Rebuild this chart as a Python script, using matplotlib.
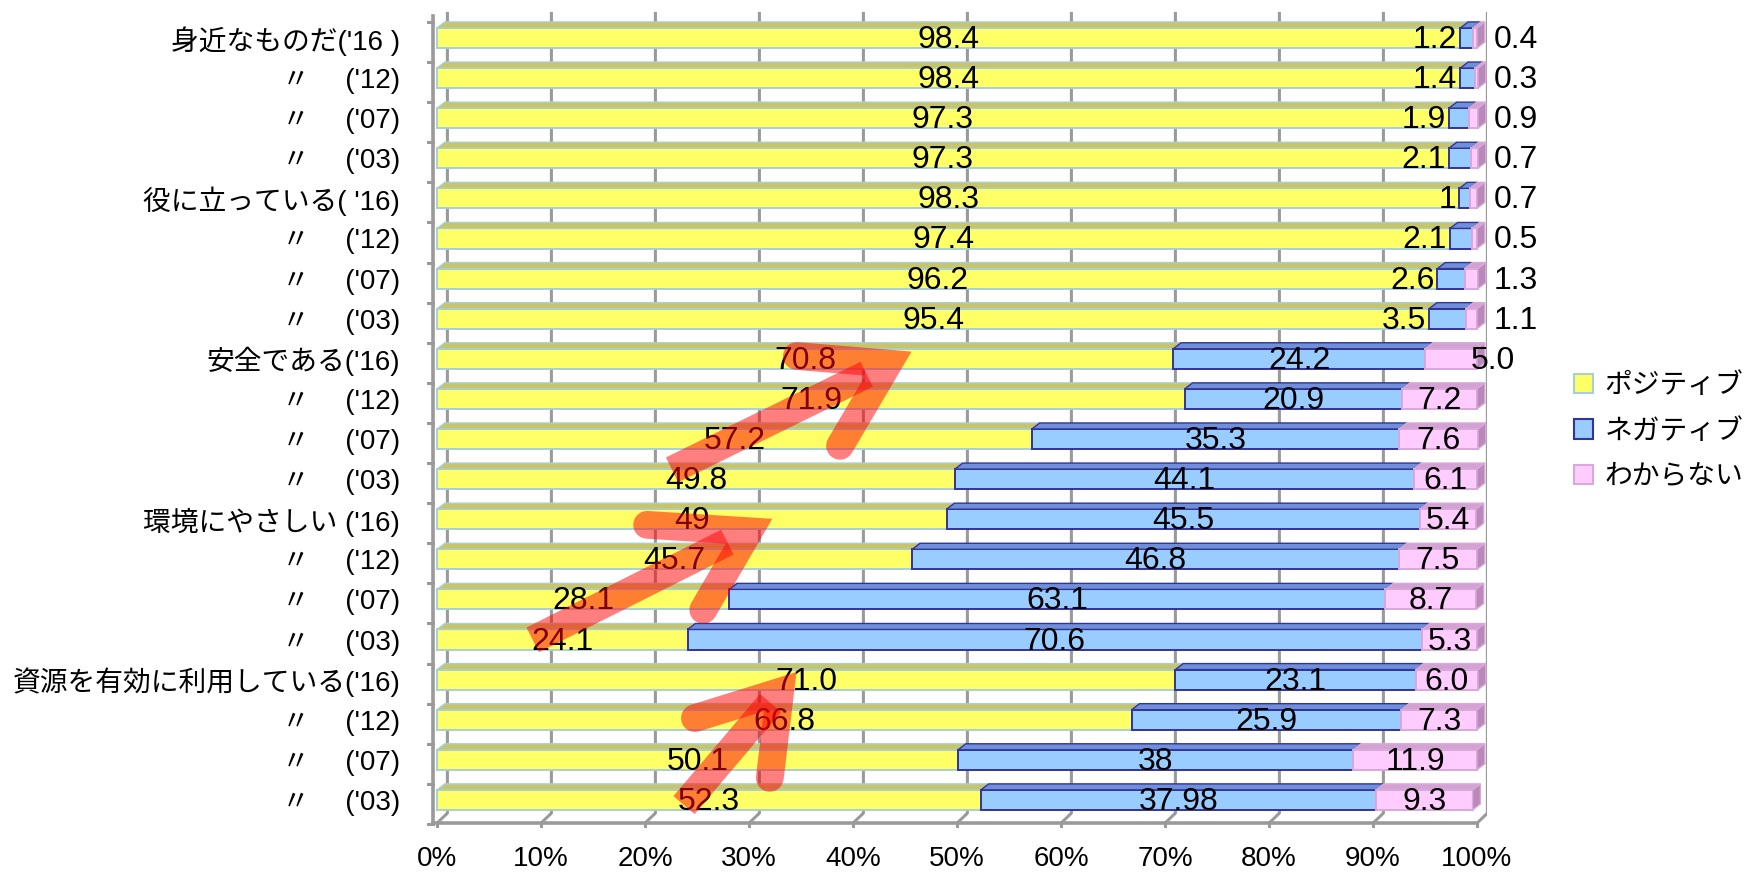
import numpy as np
import matplotlib
matplotlib.use("Agg")
import matplotlib.pyplot as plt
from matplotlib.patches import Polygon, Patch

plt.rcParams['font.family'] = ['Liberation Sans', 'Noto Sans CJK JP']

# ---------------- DATA ---------------- #

row_labels = [
    "身近なものだ('16 )", "〃　 ('12)", "〃　 ('07)", "〃　 ('03)",
    "役に立っている( '16)", "〃　 ('12)", "〃　 ('07)", "〃　 ('03)",
    "安全である('16)", "〃　 ('12)", "〃　 ('07)", "〃　 ('03)",
    "環境にやさしい ('16)", "〃　 ('12)", "〃　 ('07)", "〃　 ('03)",
    "資源を有効に利用している('16)", "〃　 ('12)", "〃　 ('07)", "〃　 ('03)",
]
positive = [98.4, 98.4, 97.3, 97.3, 98.3, 97.4, 96.2, 95.4, 70.8, 71.9,
            57.2, 49.8, 49, 45.7, 28.1, 24.1, 71.0, 66.8, 50.1, 52.3]
negative = [1.2, 1.4, 1.9, 2.1, 1, 2.1, 2.6, 3.5, 24.2, 20.9,
            35.3, 44.1, 45.5, 46.8, 63.1, 70.6, 23.1, 25.9, 38, 37.98]
unknown = [0.4, 0.3, 0.9, 0.7, 0.7, 0.5, 1.3, 1.1, 5.0, 7.2,
           7.6, 6.1, 5.4, 7.5, 8.7, 5.3, 6.0, 7.3, 11.9, 9.3]
positive_text = ["98.4", "98.4", "97.3", "97.3", "98.3", "97.4", "96.2", "95.4", "70.8", "71.9",
                 "57.2", "49.8", "49", "45.7", "28.1", "24.1", "71.0", "66.8", "50.1", "52.3"]
negative_text = ["1.2", "1.4", "1.9", "2.1", "1", "2.1", "2.6", "3.5", "24.2", "20.9",
                 "35.3", "44.1", "45.5", "46.8", "63.1", "70.6", "23.1", "25.9", "38", "37.98"]
unknown_text = ["0.4", "0.3", "0.9", "0.7", "0.7", "0.5", "1.3", "1.1", "5.0", "7.2",
                "7.6", "6.1", "5.4", "7.5", "8.7", "5.3", "6.0", "7.3", "11.9", "9.3"]
series_names = ["ポジティブ", "ネガティブ", "わからない"]
x_ticks = [0, 10, 20, 30, 40, 50, 60, 70, 80, 90, 100]

# ---------------- STYLE ---------------- #

face = ['#FFFF66', '#99CCFF', '#FFCCFF']
edge = ['#A9CFD6', '#333399', '#D9A9D9']
top_face = ['#C8C46A', '#6F8FD8', '#D2A2D2']
side_face = ['#C8C46A', '#5A74C0', '#B98AB9']
bar_h = 0.5
dx, dy = 0.75, 0.15          # bar depth
gx, gy = 1.0, 0.25           # wall / floor offset
y_top, y_floor = -0.65, 19.58
grid_col = '#9A9A9A'

fig = plt.figure(figsize=(17.5, 8.72), dpi=100)
ax = fig.add_axes([0.24377, 0.05046, 0.60617, 0.94278])
ax.set_xlim(-1, 101)
ax.set_ylim(19.7, -0.8)
ax.set_frame_on(False)

rows = np.arange(len(row_labels))
pos = np.array(positive, dtype=float)
neg = np.array(negative, dtype=float)
unk = np.array(unknown, dtype=float)

# back wall gridlines with floor connectors
for x in x_ticks:
    ax.plot([x + gx, x + gx, x], [y_top, y_floor - gy, y_floor],
            color=grid_col, lw=2.2, zorder=1, solid_capstyle='butt')
    ax.plot([x, x], [y_floor, y_floor + 0.25], color=grid_col, lw=2.2, zorder=1)
ax.plot([-0.4, -0.4], [y_top + 0.1, y_floor], color=grid_col, lw=2.6, zorder=1)
ax.plot([-0.4, 100], [y_floor, y_floor], color=grid_col, lw=2.6, zorder=1)
for b in np.arange(-0.4, 20, 1.0):
    ax.plot([-1.0, -0.4], [b, b], color=grid_col, lw=2.2, zorder=1)

# stacked 3D-ish bars
segments = [(pos, np.zeros_like(pos)), (neg, pos), (unk, pos + neg)]
for k, (vals, lefts) in enumerate(segments):
    ax.barh(rows, vals, left=lefts, height=bar_h, color=face[k],
            edgecolor=edge[k], linewidth=1.4, zorder=3)
    for i in rows:
        l, r = lefts[i], lefts[i] + vals[i]
        t = i - bar_h / 2
        ax.add_patch(Polygon([(l, t), (l + dx, t - dy), (r + dx, t - dy), (r, t)],
                             closed=True, facecolor=top_face[k], edgecolor=edge[k],
                             lw=1.0, zorder=3))
        if k == 2:
            b = i + bar_h / 2
            ax.add_patch(Polygon([(r, t), (r + dx, t - dy), (r + dx, b - dy), (r, b)],
                                 closed=True, facecolor=side_face[k], edgecolor=edge[k],
                                 lw=1.0, zorder=3))

# data labels
lab_kw = dict(fontsize=23, va='center', zorder=5, family='Liberation Sans')
unk_nudge = {8: 4.0}
for i in rows:
    ax.text(pos[i] / 2, i + 0.05, positive_text[i], ha='center', **lab_kw)
    if neg[i] < 4:
        ax.text(pos[i] - 0.3, i + 0.05, negative_text[i], ha='right', **lab_kw)
    else:
        ax.text(pos[i] + neg[i] / 2, i + 0.05, negative_text[i], ha='center', **lab_kw)
    if unk[i] < 2:
        ax.text(101.6, i + 0.05, unknown_text[i], ha='left', clip_on=False, **lab_kw)
    else:
        cx = pos[i] + neg[i] + unk[i] / 2 + unk_nudge.get(i, 0)
        ax.text(cx, i + 0.05, unknown_text[i], ha='center', clip_on=False, **lab_kw)

# red hand-drawn arrows (tail, tip, arm1, arm2)
arrows = [
    ((22.6, 10.77), (43.4, 8.12), (34.6, 7.93), (38.75, 10.17)),
    ((9.2, 15.01), (30.0, 12.3), (20.2, 12.14), (25.6, 14.26)),
    ((23.75, 19.13), (33.0, 16.3), (24.8, 16.96), (32.0, 18.45)),
]
for tail, tip, a1, a2 in arrows:
    sx = tail[0] + 0.9 * (tip[0] - tail[0])
    sy = tail[1] + 0.9 * (tip[1] - tail[1])
    ax.plot([tail[0], sx], [tail[1], sy], color='red', alpha=0.5, lw=20,
            solid_capstyle='butt', zorder=6)
    ax.plot([a1[0], tip[0], a2[0]], [a1[1], tip[1], a2[1]], color='red', alpha=0.5,
            lw=20, solid_capstyle='round', solid_joinstyle='miter', zorder=6)

# axes ticks
ax.set_xticks(x_ticks)
ax.set_xticklabels([f"{x}%" for x in x_ticks], fontsize=20)
ax.tick_params(axis='x', length=0, pad=13)
ax.set_yticks(rows)
ax.set_yticklabels(row_labels, fontsize=20)
ax.tick_params(axis='y', length=0, pad=19)

handles = [Patch(facecolor=face[k], edgecolor=edge[k] if k else '#A9CFD6', linewidth=1.5)
           for k in range(3)]
fig.legend(handles, series_names, loc='upper left', bbox_to_anchor=(0.8994, 0.572),
           frameon=False, fontsize=20, handlelength=0.7, handleheight=0.7,
           handletextpad=0.4, labelspacing=0.7, borderpad=0, borderaxespad=0)

fig.savefig("out.png", dpi=100)
